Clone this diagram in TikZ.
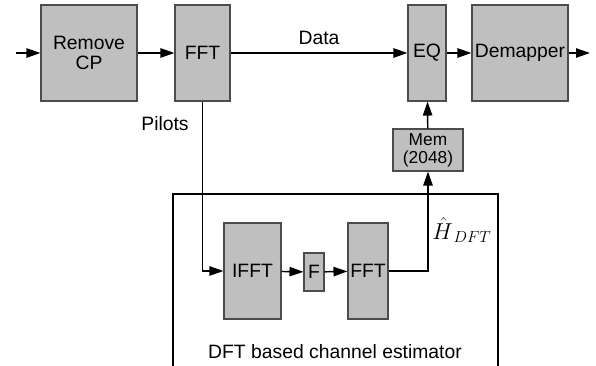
\documentclass[tikz,border=0pt]{standalone}
\usepackage{fontspec}
\setmainfont{Liberation Sans}
\usetikzlibrary{arrows.meta}

\begin{document}
\begin{tikzpicture}[x=0.75pt, y=-0.75pt, every node/.style={font=\fontsize{14.5}{15}\selectfont}, >={Triangle[length=10.5pt,width=7pt]},
	blk/.style={draw=black!70, fill=gray!50, line width=0.8pt, inner sep=0pt, align=center},
	wire/.style={line width=1.1pt}]
	\useasboundingbox (0,0) rectangle (596,366);
	% receiver chain
	\node[blk, minimum width=72pt, minimum height=72pt] (rcp) at (89,53) {Remove\\CP};
	\node[blk, minimum width=41.25pt, minimum height=72pt] (fft) at (202.5,53) {FFT};
	\node[blk, minimum width=28.5pt, minimum height=72pt] (eq) at (427,53) {EQ};
	\node[blk, minimum width=72pt, minimum height=72pt] (dem) at (520,53) {Demapper};
	\node[blk, minimum width=52.5pt, minimum height=31.5pt, font=\fontsize{13}{13.5}\selectfont] (mem) at (428,150) {Mem\\(2048)};
	\coordinate (in) at (16,53);
	\coordinate (out) at (590,53);
	\draw[wire, ->] (in) -- (rcp);
	\draw[wire, ->] (rcp) -- (fft);
	\draw[wire, ->] (fft) -- node[above=2pt] (data) {Data} (eq);
	\draw[wire, ->] (eq) -- (dem);
	\draw[wire, ->] (dem) -- (out);
	\draw[wire, ->] (mem) -- (eq);
	% channel estimator
	\draw[wire] (173,380) -- (173,194) -- (498,194) -- (498,380);
	\node[blk, minimum width=42.75pt, minimum height=72pt] (ifft) at (252.5,271) {IFFT};
	\node[blk, minimum width=15pt, minimum height=28.5pt] (filt) at (314,272) {F};
	\node[blk, minimum width=30pt, minimum height=72pt] (fft2) at (368,271) {FFT};
	\node (est) at (335,352) {DFT based channel estimator};
	\node (pil) at (165,124) {Pilots};
	\node[font=\fontsize{17}{20}\selectfont, anchor=west, inner sep=0pt] (hdft) at (432,230) {$\hat{H}_{\,DFT}$};
	\draw[wire, ->] (fft) |- (ifft);
	\draw[wire, ->] (ifft) -- (filt);
	\draw[wire, ->] (filt) -- (fft2);
	\draw[wire, ->] (fft2) -| (mem);
\end{tikzpicture}
\end{document}
